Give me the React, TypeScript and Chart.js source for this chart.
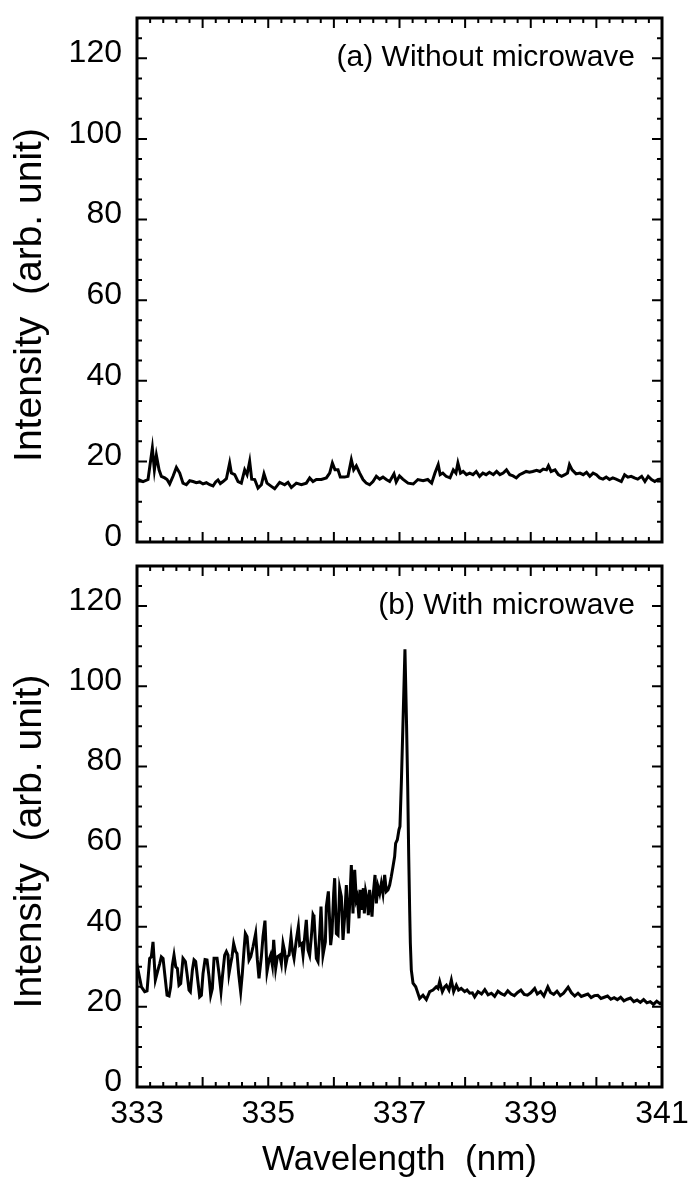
import React, { useEffect, useRef } from "react";
import { Chart, registerables } from "chart.js";

Chart.register(...registerables);

// ---------- data ----------
const wlTop = [
  333.0, 333.016, 333.092, 333.168, 333.234, 333.265, 333.295, 333.336, 333.371, 333.422, 333.458,
  333.498, 333.549, 333.6, 333.651, 333.701, 333.752, 333.803, 333.854, 333.904, 333.955,
  334.006, 334.057, 334.108, 334.158, 334.199, 334.234, 334.27, 334.311, 334.362, 334.412,
  334.438, 334.489, 334.54, 334.59, 334.641, 334.677, 334.717, 334.748, 334.794, 334.844,
  334.895, 334.935, 334.981, 335.047, 335.098, 335.174, 335.25, 335.301, 335.352, 335.428,
  335.504, 335.58, 335.631, 335.682, 335.733, 335.809, 335.885, 335.936, 335.977, 336.017,
  336.063, 336.098, 336.164, 336.215, 336.266, 336.302, 336.342, 336.393, 336.444, 336.494,
  336.545, 336.596, 336.647, 336.698, 336.748, 336.799, 336.85, 336.916, 336.95, 337.0,
  337.05, 337.13, 337.21, 337.28, 337.36, 337.43, 337.49, 337.54, 337.59, 337.62,
  337.66, 337.71, 337.77, 337.82, 337.86, 337.89, 337.93, 337.97, 338.02, 338.07,
  338.12, 338.17, 338.22, 338.27, 338.32, 338.37, 338.43, 338.48, 338.53, 338.58,
  338.63, 338.68, 338.73, 338.78, 338.83, 338.88, 338.93, 338.98, 339.03, 339.09,
  339.14, 339.19, 339.24, 339.27, 339.31, 339.37, 339.42, 339.47, 339.52, 339.56,
  339.59, 339.63, 339.69, 339.75, 339.8, 339.85, 339.9, 339.95, 340.0, 340.05,
  340.1, 340.15, 340.2, 340.25, 340.3, 340.38, 340.43, 340.48, 340.53, 340.58,
  340.63, 340.69, 340.74, 340.79, 340.84, 340.89, 340.94, 340.99, 341.0,
];
const intensityTop = [
  15.6, 15.5, 15.0, 15.5, 23.3, 17.9, 21.5, 17.9, 16.3, 15.9, 15.5,
  14.4, 16.3, 18.5, 17.1, 14.6, 14.2, 15.2, 15.0, 14.7, 14.9,
  14.4, 14.7, 14.2, 13.9, 14.9, 15.4, 14.5, 15.0, 15.7, 19.6,
  17.1, 16.7, 15.0, 14.6, 17.9, 16.7, 20.0, 15.6, 15.5, 13.4,
  14.2, 16.9, 14.6, 13.8, 13.2, 14.8, 14.2, 14.8, 13.5, 14.6,
  14.2, 14.6, 15.9, 15.0, 15.5, 15.5, 15.9, 17.1, 19.6, 17.9,
  17.9, 16.1, 16.1, 16.3, 20.4, 17.9, 18.9, 17.1, 15.5, 14.6,
  14.2, 15.0, 16.3, 15.6, 16.1, 15.5, 15.0, 16.9, 14.9, 16.4,
  15.6, 14.6, 14.4, 15.5, 15.2, 15.5, 14.6, 17.1, 19.2, 16.7,
  17.1, 16.3, 15.9, 17.9, 17.1, 19.6, 17.1, 17.5, 16.7, 17.1,
  16.7, 17.5, 16.3, 17.1, 16.7, 17.3, 16.7, 17.5, 16.7, 17.1,
  17.9, 16.7, 16.4, 15.9, 16.7, 17.1, 17.5, 17.3, 17.5, 17.8,
  17.5, 18.1, 17.9, 18.9, 17.5, 17.9, 16.7, 16.3, 16.7, 17.1,
  19.2, 17.9, 16.9, 17.1, 16.7, 17.3, 16.3, 17.1, 16.7, 15.9,
  15.6, 16.1, 15.5, 15.9, 15.6, 15.0, 16.7, 16.1, 16.3, 15.9,
  15.6, 16.3, 15.0, 16.3, 15.5, 15.0, 15.5, 15.6, 15.4,
];

const wlBottom = [
  333.0, 333.016, 333.067, 333.117, 333.153, 333.193, 333.219, 333.244, 333.28, 333.32, 333.346,
  333.371, 333.397, 333.422, 333.458, 333.488, 333.513, 333.539, 333.564, 333.59, 333.615,
  333.64, 333.666, 333.701, 333.737, 333.762, 333.793, 333.813, 333.844, 333.869, 333.894,
  333.92, 333.955, 333.981, 334.006, 334.037, 334.067, 334.098, 334.123, 334.148, 334.174,
  334.22, 334.25, 334.28, 334.301, 334.336, 334.362, 334.387, 334.402, 334.428, 334.448,
  334.473, 334.504, 334.524, 334.549, 334.58, 334.605, 334.631, 334.651, 334.677, 334.707,
  334.733, 334.768, 334.808, 334.834, 334.859, 334.895, 334.92, 334.95, 334.981, 335.012,
  335.037, 335.063, 335.083, 335.113, 335.139, 335.174, 335.2, 335.225, 335.25, 335.266,
  335.291, 335.317, 335.347, 335.367, 335.393, 335.428, 335.459, 335.479, 335.509, 335.53,
  335.56, 335.58, 335.606, 335.631, 335.657, 335.682, 335.697, 335.733, 335.758, 335.784,
  335.804, 335.834, 335.87, 335.885, 335.916, 335.951, 335.971, 335.997, 336.012, 336.038,
  336.063, 336.088, 336.114, 336.139, 336.164, 336.19, 336.22, 336.241, 336.266, 336.291,
  336.317, 336.342, 336.357, 336.383, 336.403, 336.423, 336.449, 336.464, 336.484, 336.51,
  336.525, 336.545, 336.581, 336.601, 336.627, 336.647, 336.672, 336.698, 336.723, 336.748,
  336.774, 336.799, 336.824, 336.85, 336.875, 336.901, 336.926, 336.941, 336.967, 336.992,
  337.007, 337.028, 337.053, 337.083, 337.108, 337.125, 337.14, 337.155, 337.165, 337.18,
  337.206, 337.247, 337.272, 337.307, 337.358, 337.409, 337.46, 337.51, 337.56, 337.587,
  337.612, 337.653, 337.688, 337.714, 337.754, 337.79, 337.825, 337.866, 337.9, 337.94,
  337.993, 338.029, 338.07, 338.11, 338.145, 338.196, 338.25, 338.3, 338.35, 338.4,
  338.45, 338.5, 338.55, 338.6, 338.65, 338.7, 338.75, 338.8, 338.85, 338.9,
  338.95, 339.0, 339.06, 339.1, 339.15, 339.2, 339.26, 339.3, 339.35, 339.4,
  339.45, 339.5, 339.57, 339.62, 339.67, 339.72, 339.77, 339.82, 339.87, 339.92,
  339.97, 340.02, 340.07, 340.12, 340.17, 340.22, 340.27, 340.32, 340.37, 340.42,
  340.47, 340.52, 340.57, 340.62, 340.67, 340.72, 340.77, 340.82, 340.87, 340.92,
  340.97, 341.0,
];
const intensityBottom = [
  28.0, 29.2, 25.0, 23.8, 24.0, 32.1, 32.5, 36.2, 26.7, 29.2, 30.8,
  32.5, 32.1, 28.3, 22.9, 22.7, 25.0, 30.4, 32.9, 30.0, 29.6,
  25.4, 25.8, 32.1, 31.3, 28.3, 24.2, 23.8, 29.2, 31.7, 31.3,
  27.5, 22.5, 22.9, 28.3, 31.8, 31.7, 27.5, 22.9, 24.6, 32.1,
  32.1, 28.3, 23.8, 27.5, 32.9, 33.8, 32.9, 28.3, 30.8, 32.5,
  35.8, 33.8, 33.3, 28.3, 23.8, 28.3, 34.2, 38.3, 37.5, 31.7,
  32.5, 35.0, 38.3, 31.7, 27.1, 32.5, 37.5, 41.5, 28.8, 31.7,
  32.9, 30.4, 36.7, 29.6, 32.5, 32.9, 30.8, 35.8, 33.8, 30.4,
  32.5, 32.9, 37.5, 34.2, 32.1, 36.7, 40.0, 35.4, 35.8, 32.9,
  38.3, 41.7, 34.2, 32.9, 37.5, 43.0, 42.5, 32.1, 31.3, 38.3,
  45.0, 32.9, 36.2, 45.0, 48.8, 35.4, 38.3, 48.3, 52.1, 38.3,
  37.9, 49.6, 47.5, 36.7, 42.5, 50.4, 38.3, 45.8, 55.4, 43.3,
  54.2, 46.7, 47.5, 42.1, 49.2, 44.2, 49.6, 43.3, 48.8, 46.7,
  42.9, 49.2, 42.5, 48.3, 52.9, 45.8, 50.0, 48.3, 50.8, 48.3,
  52.9, 48.8, 49.2, 50.4, 52.5, 55.0, 57.5, 60.8, 61.7, 64.2,
  65.0, 75.8, 90.8, 109.2, 90.0, 75.0, 58.0, 44.0, 36.0, 29.2,
  25.9, 25.0, 23.8, 22.1, 22.9, 21.8, 23.8, 24.2, 25.0, 24.6,
  26.3, 23.8, 25.0, 25.4, 24.2, 26.7, 23.8, 25.4, 24.2, 24.6,
  23.8, 24.2, 23.4, 23.5, 22.5, 23.8, 23.2, 24.3, 23.0, 23.4,
  22.6, 23.9, 23.3, 22.9, 24.0, 23.2, 22.8, 23.6, 24.2, 23.1,
  22.9, 23.5, 24.6, 23.2, 23.8, 22.7, 25.0, 23.6, 23.1, 23.9,
  22.8, 23.4, 24.9, 23.5, 22.7, 23.4, 22.6, 22.9, 23.2, 22.3,
  22.8, 22.9, 22.1, 22.4, 22.7, 21.9, 22.3, 21.8, 22.4, 21.5,
  21.9, 22.2, 21.3, 21.7, 21.1, 21.8, 21.0, 21.3, 20.6, 21.4,
  20.8, 21.1,
];

const xTickLabels = [333, 335, 337, 339, 341];
const yTickLabels = [0, 20, 40, 60, 80, 100, 120];
const X_MIN = 333;
const X_MAX = 341;
const Y_MIN = 0;
const Y_MAX = 130;
const X_MINOR_STEP = 0.2;
const X_MAJOR_EVERY = 5; // every 1 nm
const Y_MINOR_STEP = 5;
const Y_MAJOR_EVERY = 4; // every 20
const panelLabels = ["(a) Without microwave", "(b) With microwave"];
const yTitle = "Intensity  (arb. unit)";
const xTitle = "Wavelength  (nm)";

const FAMILY = '"Liberation Sans", Arial, Helvetica, sans-serif';

// frame + inward ticks + panel label + y title
const framePlugin = {
  id: "frameTicks",
  afterDraw(chart: any, _args: any, opts: any) {
    const { ctx, chartArea: a, scales } = chart;
    const x = scales.x;
    const y = scales.y;
    ctx.save();
    ctx.strokeStyle = "#000";
    ctx.lineWidth = 2;
    ctx.beginPath();
    const nx = Math.round((X_MAX - X_MIN) / X_MINOR_STEP);
    for (let i = 0; i <= nx; i++) {
      const px = x.getPixelForValue(X_MIN + i * X_MINOR_STEP);
      const len = i % X_MAJOR_EVERY === 0 ? 10 : 5;
      ctx.moveTo(px, a.top);
      ctx.lineTo(px, a.top + len);
      ctx.moveTo(px, a.bottom);
      ctx.lineTo(px, a.bottom - len);
    }
    const ny = Math.round((Y_MAX - Y_MIN) / Y_MINOR_STEP);
    for (let i = 0; i <= ny; i++) {
      const py = y.getPixelForValue(Y_MIN + i * Y_MINOR_STEP);
      const len = i % Y_MAJOR_EVERY === 0 ? 10 : 5;
      ctx.moveTo(a.left, py);
      ctx.lineTo(a.left + len, py);
      ctx.moveTo(a.right, py);
      ctx.lineTo(a.right - len, py);
    }
    ctx.stroke();
    ctx.lineWidth = 3;
    ctx.strokeRect(a.left, a.top, a.right - a.left, a.bottom - a.top);
    ctx.fillStyle = "#000";
    if (opts && opts.label) {
      ctx.font = `30px ${FAMILY}`;
      ctx.textAlign = "right";
      ctx.textBaseline = "alphabetic";
      ctx.fillText(opts.label, a.right - 27, a.top + 48);
    }
    // y-axis title
    ctx.translate(30, (a.top + a.bottom) / 2 + 15);
    ctx.rotate(-Math.PI / 2);
    ctx.font = `39px ${FAMILY}`;
    ctx.textAlign = "center";
    ctx.textBaseline = "middle";
    ctx.fillText(yTitle, 0, 0);
    ctx.restore();
  },
};

function makeChart(
  canvas: HTMLCanvasElement,
  wl: number[],
  inten: number[],
  label: string,
  bottomPanel: boolean
) {
  const points = wl.map((w, i) => ({ x: w, y: inten[i] }));
  return new Chart(canvas, {
    type: "line",
    data: {
      datasets: [
        {
          data: points,
          borderColor: "#000",
          borderWidth: 3,
          pointRadius: 0,
          tension: 0,
          fill: false,
        },
      ],
    },
    plugins: [framePlugin],
    options: {
      responsive: false,
      animation: false,
      devicePixelRatio: 1,
      events: [],
      layout: {
        padding: { left: 0, right: 28, top: bottomPanel ? 6 : 18, bottom: 0 },
      },
      plugins: {
        legend: { display: false },
        tooltip: { enabled: false },
        frameTicks: { label },
      } as any,
      scales: {
        x: {
          type: "linear",
          min: X_MIN,
          max: X_MAX,
          grid: { display: false, drawTicks: false },
          border: { display: false },
          afterBuildTicks: (s: any) => {
            s.ticks = xTickLabels.map((v) => ({ value: v }));
          },
          afterFit: (s: any) => {
            s.height = bottomPanel ? 95 : 18;
            s.paddingLeft = 0;
            s.paddingRight = 0;
          },
          ticks: {
            display: bottomPanel,
            color: "#000",
            font: { family: FAMILY, size: 32 },
            padding: 8,
            maxRotation: 0,
            autoSkip: false,
          },
          title: {
            display: bottomPanel,
            text: xTitle,
            color: "#000",
            font: { family: FAMILY, size: 35 },
            padding: { top: 0, bottom: 1 },
          },
        },
        y: {
          type: "linear",
          min: Y_MIN,
          max: Y_MAX,
          grid: { display: false, drawTicks: false },
          border: { display: false },
          afterBuildTicks: (s: any) => {
            s.ticks = yTickLabels.map((v) => ({ value: v }));
          },
          afterFit: (s: any) => {
            s.width = 137;
            s.paddingTop = 0;
            s.paddingBottom = 0;
          },
          ticks: {
            color: "#000",
            font: { family: FAMILY, size: 32 },
            padding: 15,
            labelOffset: -5,
          },
          title: { display: false },
        },
      },
    } as any,
  });
}

export default function App() {
  const topRef = useRef<HTMLCanvasElement>(null);
  const botRef = useRef<HTMLCanvasElement>(null);

  useEffect(() => {
    const c1 = makeChart(topRef.current!, wlTop, intensityTop, panelLabels[0], false);
    const c2 = makeChart(botRef.current!, wlBottom, intensityBottom, panelLabels[1], true);
    return () => {
      c1.destroy();
      c2.destroy();
    };
  }, []);

  return (
    <div
      style={{
        position: "absolute",
        left: 0,
        top: 0,
        width: 690,
        height: 1182,
        background: "#fff",
        overflow: "hidden",
      }}
    >
      <canvas
        ref={topRef}
        width={690}
        height={560}
        style={{ position: "absolute", left: 0, top: 0 }}
      />
      <canvas
        ref={botRef}
        width={690}
        height={622}
        style={{ position: "absolute", left: 0, top: 560 }}
      />
    </div>
  );
}
